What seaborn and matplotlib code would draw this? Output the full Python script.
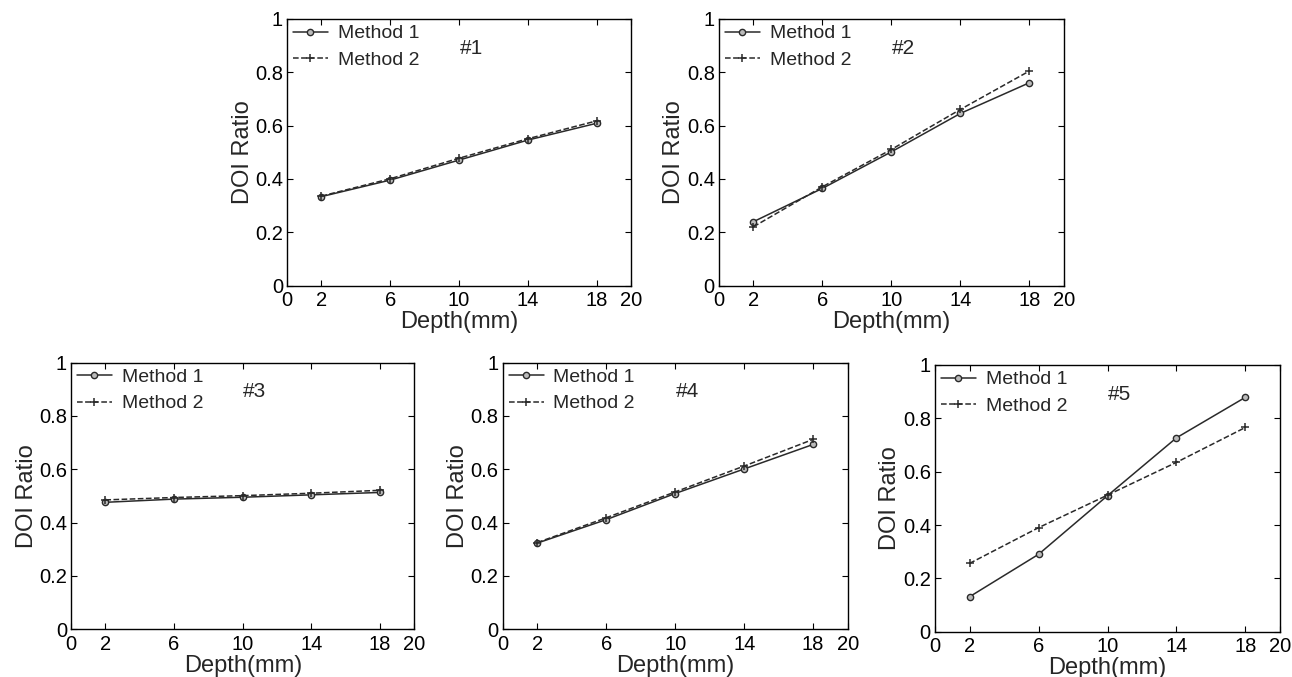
import matplotlib.pyplot as plt
import pandas as pd
import seaborn as sns

# Data
depth = [2, 6, 10, 14, 18]

m1_p1 = [0.334, 0.396, 0.471, 0.546, 0.609]
m2_p1 = [0.336, 0.401, 0.478, 0.551, 0.618]

m1_p2 = [0.240, 0.365, 0.502, 0.646, 0.761]
m2_p2 = [0.221, 0.371, 0.511, 0.661, 0.805]

m1_p3 = [0.476, 0.488, 0.495, 0.504, 0.513]
m2_p3 = [0.485, 0.494, 0.501, 0.510, 0.521]

m1_p4 = [0.323, 0.411, 0.509, 0.601, 0.693]
m2_p4 = [0.325, 0.418, 0.515, 0.612, 0.712]

m1_p5 = [0.131, 0.290, 0.510, 0.727, 0.879]
m2_p5 = [0.256, 0.390, 0.512, 0.635, 0.766]

panel_names = ['#1', '#2', '#3', '#4', '#5']
method1 = [m1_p1, m1_p2, m1_p3, m1_p4, m1_p5]
method2 = [m2_p1, m2_p2, m2_p3, m2_p4, m2_p5]

xticks = [0, 2, 6, 10, 14, 18, 20]
yticks = [0, 0.2, 0.4, 0.6, 0.8, 1]
ytick_labels = ['0', '0.2', '0.4', '0.6', '0.8', '1']

sns.set_style('ticks')
plt.rcParams['font.family'] = ['Liberation Sans', 'DejaVu Sans']

fig = plt.figure(figsize=(12.92, 6.77), dpi=100)

# axes boxes [left, bottom, width, height] in figure fractions
boxes = [
    [0.2222, 0.578, 0.2663, 0.394],
    [0.5565, 0.578, 0.2670, 0.394],
    [0.0550, 0.0705, 0.2658, 0.394],
    [0.3891, 0.0705, 0.2670, 0.394],
    [0.7237, 0.0669, 0.2670, 0.394],
]

line_col = '#2a2a2a'

for i in range(5):
    ax = fig.add_axes(boxes[i])
    df = pd.DataFrame({'depth': depth, 'm1': method1[i], 'm2': method2[i]})

    sns.lineplot(data=df, x='depth', y='m1', ax=ax, color=line_col, lw=1.1,
                 marker='o', markersize=4.5, mfc='#bbbbbb', mec=line_col, mew=1.0,
                 label='Method 1')
    sns.lineplot(data=df, x='depth', y='m2', ax=ax, color=line_col, lw=1.1,
                 ls='--', marker='+', markersize=6, mec=line_col, mew=1.1,
                 label='Method 2')

    ax.set_xlim(0, 20)
    ax.set_ylim(0, 1)
    ax.set_xticks(xticks)
    ax.set_yticks(yticks)
    ax.set_yticklabels(ytick_labels)
    ax.tick_params(direction='in', top=True, right=True, length=4, width=0.8,
                   labelsize=14.5, colors='black')
    ax.tick_params(axis='x', pad=4)
    ax.tick_params(axis='y', pad=3)
    for s in ax.spines.values():
        s.set_visible(True)
        s.set_linewidth(1.0)
        s.set_color('black')

    ax.set_xlabel('Depth(mm)', fontsize=17, labelpad=0.5)
    ax.set_ylabel('DOI Ratio', fontsize=17, labelpad=1)

    ax.text(10.7, 0.89, panel_names[i], fontsize=15, ha='center', va='center')

    ax.legend(loc='upper left', bbox_to_anchor=(0, 1), borderaxespad=0,
              borderpad=0.3, frameon=False, fontsize=14, handlelength=1.8,
              handletextpad=0.5, labelspacing=0.45, numpoints=1)

fig.savefig('out.png', dpi=100)
